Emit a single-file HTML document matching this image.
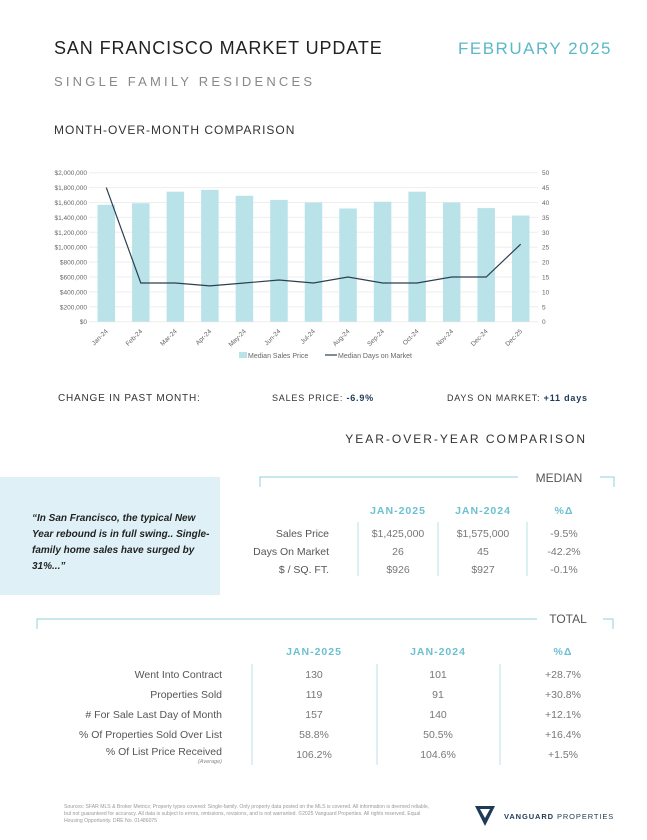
<!DOCTYPE html>
<html><head><meta charset="utf-8"><style>
html,body{margin:0;padding:0;background:#fff;}
svg{display:block;font-family:"Liberation Sans",sans-serif;}
</style></head><body>
<svg id="page" width="647" height="840" viewBox="0 0 647 840" xmlns="http://www.w3.org/2000/svg">
<text x="54" y="54" font-size="18" fill="#222" letter-spacing="0.9">SAN FRANCISCO MARKET UPDATE</text>
<text x="612" y="54" font-size="17" fill="#5bb8c8" text-anchor="end" letter-spacing="1.5">FEBRUARY 2025</text>
<text x="54" y="86" font-size="13" fill="#888" letter-spacing="3.2">SINGLE FAMILY RESIDENCES</text>
<text x="54" y="134" font-size="12" fill="#333" letter-spacing="1">MONTH-OVER-MONTH COMPARISON</text>

<g id="chart"></g>

<g>
<text x="58" y="401" font-size="10" fill="#333" letter-spacing="0.8">CHANGE IN PAST MONTH:</text>
<text x="272" y="401" font-size="9" fill="#333" letter-spacing="0.8">SALES PRICE: <tspan font-weight="bold" fill="#1f3a55">-6.9%</tspan></text>
<text x="447" y="401" font-size="9" fill="#333" letter-spacing="0.8">DAYS ON MARKET: <tspan font-weight="bold" fill="#1f3a55">+11 days</tspan></text>
</g>

<text x="587" y="443" font-size="12" fill="#333" text-anchor="end" letter-spacing="2">YEAR-OVER-YEAR COMPARISON</text>

<rect x="0" y="477" width="220" height="118" fill="#dff1f7"/>
<g font-size="10" font-style="italic" font-weight="bold" fill="#222">
<text x="32" y="521">“In San Francisco, the typical New</text>
<text x="32" y="537">Year rebound is in full swing.. Single-</text>
<text x="32" y="553">family home sales have surged by</text>
<text x="32" y="569">31%...”</text>
</g>

<g fill="#555" font-size="10.5">
<path d="M260 487 V477 H518 M600 477 H614 V487" fill="none" stroke="#8fd0da" stroke-width="1"/>
<text x="559" y="482" font-size="12" text-anchor="middle" fill="#555">MEDIAN</text>
<g font-size="10.5" fill="#6cc1d0" text-anchor="middle" letter-spacing="1" font-weight="bold">
<text x="398" y="514">JAN-2025</text><text x="483" y="514">JAN-2024</text><text x="564" y="514">%Δ</text></g>
<path d="M358 522 V576 M438 522 V576 M527 522 V576" stroke="#b8e0e8" stroke-width="1"/>
<g text-anchor="end"><text x="329" y="537">Sales Price</text><text x="329" y="555">Days On Market</text><text x="329" y="573">$ / SQ. FT.</text></g>
<g text-anchor="middle" fill="#777">
<text x="398" y="537">$1,425,000</text><text x="483" y="537">$1,575,000</text><text x="564" y="537">-9.5%</text>
<text x="398" y="555">26</text><text x="483" y="555">45</text><text x="564" y="555">-42.2%</text>
<text x="398" y="573">$926</text><text x="483" y="573">$927</text><text x="564" y="573">-0.1%</text></g>
</g>

<g fill="#555" font-size="10.5">
<path d="M37 629 V619 H537 M603 619 H613 V629" fill="none" stroke="#8fd0da" stroke-width="1"/>
<text x="568" y="623" font-size="12" text-anchor="middle" fill="#555">TOTAL</text>
<g font-size="10.5" fill="#6cc1d0" text-anchor="middle" letter-spacing="1" font-weight="bold">
<text x="314" y="655">JAN-2025</text><text x="438" y="655">JAN-2024</text><text x="563" y="655">%Δ</text></g>
<path d="M252 664 V765 M377 664 V765 M500 664 V765" stroke="#b8e0e8" stroke-width="1"/>
<g text-anchor="end">
<text x="222" y="678">Went Into Contract</text>
<text x="222" y="698">Properties Sold</text>
<text x="222" y="718"># For Sale Last Day of Month</text>
<text x="222" y="738">% Of Properties Sold Over List</text>
<text x="222" y="755">% Of List Price Received</text>
<text x="222" y="763" font-size="5.5" font-style="italic" fill="#888">(Average)</text>
</g>
<g text-anchor="middle" fill="#777">
<text x="314" y="678">130</text><text x="438" y="678">101</text><text x="563" y="678">+28.7%</text>
<text x="314" y="698">119</text><text x="438" y="698">91</text><text x="563" y="698">+30.8%</text>
<text x="314" y="718">157</text><text x="438" y="718">140</text><text x="563" y="718">+12.1%</text>
<text x="314" y="738">58.8%</text><text x="438" y="738">50.5%</text><text x="563" y="738">+16.4%</text>
<text x="314" y="758">106.2%</text><text x="438" y="758">104.6%</text><text x="563" y="758">+1.5%</text>
</g>
</g>

<g font-size="5.1" fill="#999">
<text x="64" y="808">Sources: SFAR MLS &amp; Broker Metrics; Property types covered: Single-family. Only property data posted on the MLS is covered. All information is deemed reliable,</text>
<text x="64" y="815">but not guaranteed for accuracy. All data is subject to errors, omissions, revisions, and is not warranted. ©2025 Vanguard Properties. All rights reserved. Equal</text>
<text x="64" y="822">Housing Opportunity. DRE No. 01486075</text>
</g>
<g>
<path d="M475 806 L495 806 L485 826 Z" fill="#1f3a55"/>
<path d="M480 809 L490 809 L485 818 Z" fill="#fff"/>
<text x="504" y="819" font-size="7.5" fill="#1f3a55" letter-spacing="0.9" font-weight="bold">VANGUARD <tspan font-weight="normal">PROPERTIES</tspan></text>
</g>
</svg>
<script>
const categories = ["Jan-24","Feb-24","Mar-24","Apr-24","May-24","Jun-24","Jul-24","Aug-24","Sep-24","Oct-24","Nov-24","Dec-24","Dec-25"];
const salesPrice = [1570000,1590000,1745000,1770000,1690000,1635000,1600000,1520000,1610000,1745000,1600000,1525000,1425000];
const daysOnMarket = [45,13,13,12,13,14,13,15,13,13,15,15,26];
const leftTicks = [0,200000,400000,600000,800000,1000000,1200000,1400000,1600000,1800000,2000000];
const rightTicks = [0,5,10,15,20,25,30,35,40,45,50];

const NS = "http://www.w3.org/2000/svg";
const chart = document.getElementById('chart');
const L = 89, R = 538, T = 172.7, B = 321.7;
const yL = v => B - v / 2000000 * (B - T);
const yR = v => B - v / 50 * (B - T);
const step = (R - L) / categories.length;
const xC = i => L + step * (i + 0.5);
function mk(tag, attrs, parent) {
  const e = document.createElementNS(NS, tag);
  for (const k in attrs) e.setAttribute(k, attrs[k]);
  (parent || chart).appendChild(e);
  return e;
}
leftTicks.forEach((v) => {
  const g = mk('line', {x1: L, x2: R, y1: yL(v), y2: yL(v), stroke: '#eeeeee', 'stroke-width': 1});
  
  
  const t = mk('text', {x: L - 2, y: yL(v) + 2.5, 'font-size': 6.5, fill: '#666', 'text-anchor': 'end'});
  t.textContent = '$' + v.toLocaleString('en-US');
  
  
});
rightTicks.forEach((v) => {
  const t = mk('text', {x: R + 4, y: yR(v) + 2.5, 'font-size': 6.5, fill: '#666'});
  t.textContent = v;
  
  
});
const bw = 17.5;
salesPrice.forEach((v, i) => {
  const r = mk('rect', {x: xC(i) - bw / 2, y: yL(v), width: bw, height: B - yL(v), fill: '#b9e3e8'});
  
  
});
const pts = daysOnMarket.map((v, i) => xC(i).toFixed(1) + ',' + yR(v).toFixed(1)).join(' ');
const pl = mk('polyline', {points: pts, fill: 'none', stroke: '#2c3e50', 'stroke-width': 1.2});


categories.forEach((c, i) => {
  const x = xC(i) + 2, y = B + 10;
  const t = mk('text', {x: x, y: y, 'font-size': 6.5, fill: '#666', 'text-anchor': 'end', transform: 'rotate(-45 ' + x + ' ' + y + ')'});
  t.textContent = c;
  
  
});
const sw = mk('rect', {x: 239, y: 352, width: 8, height: 6, fill: '#b9e3e8'});


const lt1 = mk('text', {x: 248, y: 358, 'font-size': 7, fill: '#666'});
lt1.textContent = 'Median Sales Price';


const ll = mk('line', {x1: 325, x2: 337, y1: 355, y2: 355, stroke: '#2c3e50', 'stroke-width': 1.2});


const lt2 = mk('text', {x: 338, y: 358, 'font-size': 7, fill: '#666'});
lt2.textContent = 'Median Days on Market';


</script>
</body></html>
